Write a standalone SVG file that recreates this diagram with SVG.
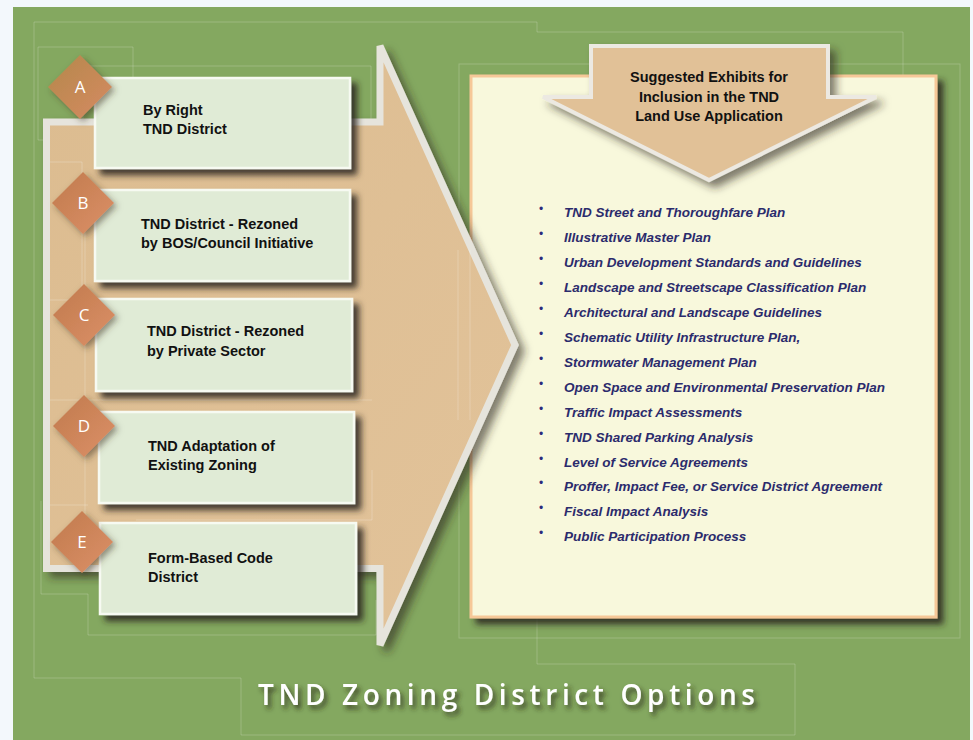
<svg xmlns="http://www.w3.org/2000/svg" width="973" height="740" viewBox="0 0 973 740">
  <defs>
    <filter id="boxShadow" x="-10%" y="-10%" width="130%" height="140%">
      <feDropShadow dx="6" dy="6" stdDeviation="3" flood-color="#2a281c" flood-opacity="0.85"/>
    </filter>
    <filter id="arrowShadow" x="-10%" y="-10%" width="130%" height="130%">
      <feDropShadow dx="6" dy="6" stdDeviation="4" flood-color="#2a281c" flood-opacity="0.6"/>
    </filter>
    <filter id="softShadow" x="-30%" y="-30%" width="170%" height="170%">
      <feDropShadow dx="3" dy="3" stdDeviation="3" flood-color="#3a3320" flood-opacity="0.5"/>
    </filter>
    <filter id="textShadow" x="-10%" y="-40%" width="120%" height="190%">
      <feDropShadow dx="3" dy="4" stdDeviation="2.5" flood-color="#2a2a1a" flood-opacity="0.8"/>
    </filter>
    <linearGradient id="diamondGrad" x1="0" y1="0" x2="1" y2="1">
      <stop offset="0" stop-color="#c07a4c"/>
      <stop offset="1" stop-color="#dc9068"/>
    </linearGradient>
    <linearGradient id="diamondGradA" x1="0" y1="0" x2="1" y2="1">
      <stop offset="0" stop-color="#b4884a"/>
      <stop offset="1" stop-color="#d68a62"/>
    </linearGradient>
    <linearGradient id="tanGrad" x1="0" y1="0" x2="1" y2="1">
      <stop offset="0" stop-color="#dcbc90"/>
      <stop offset="1" stop-color="#e2c39a"/>
    </linearGradient>
  </defs>
  <style>
    .box { fill: #e0ebd6; stroke: #f7faf2; stroke-width: 2.5; }
    .boxtxt { font-family: "Liberation Sans", Arial, sans-serif; font-weight: bold; font-size: 14.5px; fill: #111111; }
    .letter { font-family: "Open Sans", "Liberation Sans", sans-serif; font-size: 17px; fill: #ffffff; text-anchor: middle; }
    .item { font-family: "Liberation Sans", Arial, sans-serif; font-weight: bold; font-style: italic; font-size: 13.5px; fill: #2b2b6c; }
    .bullet { font-family: "Liberation Sans", Arial, sans-serif; font-size: 12px; fill: #2b2b7c; }
    .faint { fill: none; stroke: #ffffff; stroke-opacity: 0.2; stroke-width: 1; }
    .faintTan { fill: none; stroke: #ffffff; stroke-opacity: 0.22; stroke-width: 1; }
  </style>

  <!-- background -->
  <rect x="0" y="0" width="973" height="740" fill="#f3f8fc"/>
  <rect x="13" y="7" width="957" height="733" fill="#84a860"/>

  <!-- faint decorative lines -->
  <g id="decor">
    <path class="faint" d="M34,22 H537 V32 H903 V76"/>
    <path class="faint" d="M34,22 V678 H241 V735 H795 V664 H537 V617"/>
    <rect class="faint" x="459" y="64" width="501" height="574"/>
    <path class="faint" d="M38,140 V47 H133 V140 H38"/>
    <path class="faint" d="M83,120 V66 H371 V120"/>
    <path class="faint" d="M41,501 V594 H88 V635 H376 V600"/>
  </g>

  <!-- exhibits panel (behind the big arrow tip) -->
  <g id="exhibitsPanel">
    <rect x="471" y="76" width="465" height="541" fill="#f8f8dc" stroke="#f6c898" stroke-width="3" filter="url(#boxShadow)"/>
    <g id="exhibitList">
      <text class="bullet" x="539" y="263">•</text>
      <text class="bullet" x="539" y="213">•</text><text class="item" x="564" y="217">TND Street and Thoroughfare Plan</text>
      <text class="bullet" x="539" y="238">•</text><text class="item" x="564" y="242">Illustrative Master Plan</text>
      <text class="item" x="564" y="267">Urban Development Standards and Guidelines</text>
      <text class="bullet" x="539" y="288">•</text><text class="item" x="564" y="292">Landscape and Streetscape Classification Plan</text>
      <text class="bullet" x="539" y="313">•</text><text class="item" x="564" y="317">Architectural and Landscape Guidelines</text>
      <text class="bullet" x="539" y="338">•</text><text class="item" x="564" y="342">Schematic Utility Infrastructure Plan,</text>
      <text class="bullet" x="539" y="363">•</text><text class="item" x="564" y="367">Stormwater Management Plan</text>
      <text class="bullet" x="539" y="388">•</text><text class="item" x="564" y="392">Open Space and Environmental Preservation Plan</text>
      <text class="bullet" x="539" y="413">•</text><text class="item" x="564" y="417">Traffic Impact Assessments</text>
      <text class="bullet" x="539" y="438">•</text><text class="item" x="564" y="442">TND Shared Parking Analysis</text>
      <text class="bullet" x="539" y="463">•</text><text class="item" x="564" y="467">Level of Service Agreements</text>
      <text class="bullet" x="539" y="487">•</text><text class="item" x="564" y="491">Proffer, Impact Fee, or Service District Agreement</text>
      <text class="bullet" x="539" y="512">•</text><text class="item" x="564" y="516">Fiscal Impact Analysis</text>
      <text class="bullet" x="539" y="537">•</text><text class="item" x="564" y="541">Public Participation Process</text>
    </g>
  </g>

  <!-- big right-pointing arrow -->
  <g id="bigArrow">
    <path d="M46.5,122 H380 V46 L515,345 L380,645 V568.5 H46.5 Z" fill="url(#tanGrad)" stroke="#e6e4dc" stroke-width="7" stroke-linejoin="miter" filter="url(#arrowShadow)"/>
    <path class="faintTan" d="M50,162 H82 V300 H50 M85,190 V520 M50,400 H372 M50,505 H88 M136,520 H372 V470 M458,250 V420 M470,250 V420"/>
  </g>

  <!-- connectors (none in this diagram) -->
  <g id="connectors"></g>

  <!-- option boxes -->
  <g id="nodeA">
    <rect class="box" x="95" y="78" width="255" height="90" filter="url(#boxShadow)"/>
    <text class="boxtxt" x="143" y="115">By Right</text>
    <text class="boxtxt" x="143" y="134">TND District</text>
    <path d="M80,55 L112,87 L80,119 L48,87 Z" fill="url(#diamondGradA)" filter="url(#softShadow)"/>
    <text class="letter" x="80" y="93">A</text>
  </g>
  <g id="nodeB">
    <rect class="box" x="95" y="190" width="255" height="91" filter="url(#boxShadow)"/>
    <text class="boxtxt" x="141" y="229">TND District - Rezoned</text>
    <text class="boxtxt" x="141" y="248">by BOS/Council Initiative</text>
    <path d="M83,172 L114,203 L83,234 L52,203 Z" fill="url(#diamondGrad)" filter="url(#softShadow)"/>
    <text class="letter" x="83" y="209">B</text>
  </g>
  <g id="nodeC">
    <rect class="box" x="96" y="299" width="256" height="92" filter="url(#boxShadow)"/>
    <text class="boxtxt" x="147" y="336">TND District - Rezoned</text>
    <text class="boxtxt" x="147" y="356">by Private Sector</text>
    <path d="M84,284 L115,315 L84,346 L53,315 Z" fill="url(#diamondGrad)" filter="url(#softShadow)"/>
    <text class="letter" x="84" y="321">C</text>
  </g>
  <g id="nodeD">
    <rect class="box" x="99" y="412" width="255" height="91" filter="url(#boxShadow)"/>
    <text class="boxtxt" x="148" y="451">TND Adaptation of</text>
    <text class="boxtxt" x="148" y="470">Existing Zoning</text>
    <path d="M84,395 L115,426 L84,457 L53,426 Z" fill="url(#diamondGrad)" filter="url(#softShadow)"/>
    <text class="letter" x="84" y="432">D</text>
  </g>
  <g id="nodeE">
    <rect class="box" x="100" y="523" width="256" height="91" filter="url(#boxShadow)"/>
    <text class="boxtxt" x="148" y="563">Form-Based Code</text>
    <text class="boxtxt" x="148" y="582">District</text>
    <path d="M82,511 L113,542 L82,573 L51,542 Z" fill="url(#diamondGrad)" filter="url(#softShadow)"/>
    <text class="letter" x="82" y="548">E</text>
  </g>

  <!-- down arrow header -->
  <g id="exhibitsArrow">
    <path d="M591,46 H828 V97 H876 L709,180 L543,97 H591 Z" fill="#e1c197" stroke="#ece9e2" stroke-width="4" stroke-linejoin="miter" filter="url(#arrowShadow)"/>
    <text class="boxtxt" x="709" y="82" text-anchor="middle">Suggested Exhibits for</text>
    <text class="boxtxt" x="709" y="102" text-anchor="middle">Inclusion in the TND</text>
    <text class="boxtxt" x="709" y="121" text-anchor="middle">Land Use Application</text>
  </g>

  <!-- title -->
  <g id="title">
    <text x="258" y="705" textLength="497" lengthAdjust="spacing" font-family="'Open Sans', 'Liberation Sans', sans-serif" font-weight="600" font-size="28" fill="#ffffff" filter="url(#textShadow)">TND Zoning District Options</text>
  </g>
</svg>
